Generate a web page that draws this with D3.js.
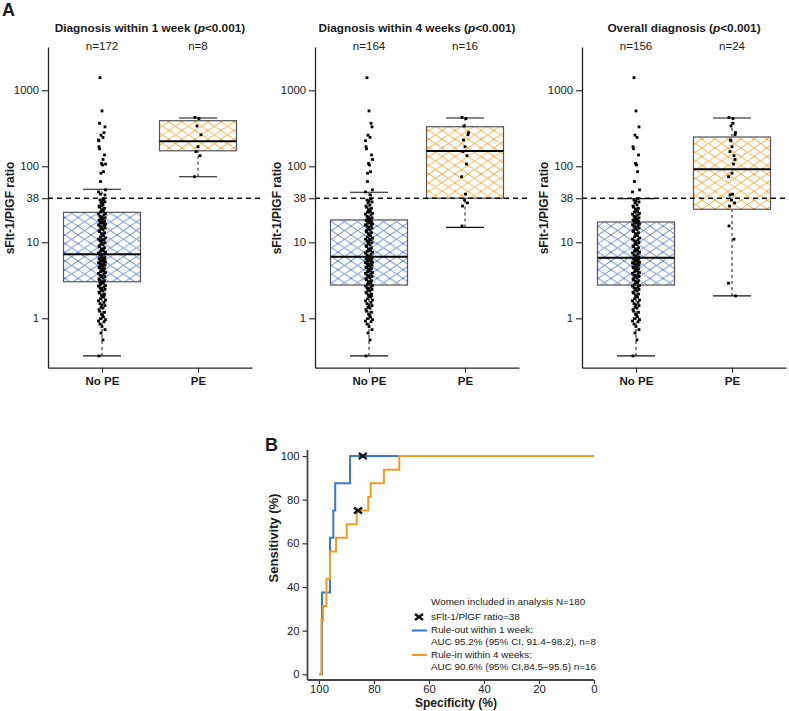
<!DOCTYPE html>
<html><head><meta charset="utf-8">
<script src="https://cdn.jsdelivr.net/npm/d3@7"></script>
<style>
body{margin:0;background:#fff}
svg{display:block}
text{font-family:Arial,"Liberation Sans",sans-serif;fill:#1a1a1a}
</style>
</head><body>
<svg id="c" width="789" height="711"></svg>
<script>
// ---------------- DATA ----------------
const groups = ["No PE", "PE"];
const panelTitles = ["Diagnosis within 1 week", "Diagnosis within 4 weeks", "Overall diagnosis"];
const pTexts = ["<0.001", "<0.001", "<0.001"];
const nCounts = [[172, 8], [164, 16], [156, 24]];
const yTickValues = [1, 10, 38, 100, 1000];
const cutoff = 38;

// box statistics: [lower whisker, Q1, median, Q3, upper whisker]
const boxNoPE1 = [0.32, 3.03, 6.95, 24.8, 49.8];
const boxPE1   = [73, 160, 213, 398, 432];
const boxNoPE2 = [0.32, 2.74, 6.46, 19.7, 45.5];
const boxPE2   = [15.7, 38, 159, 332, 432];
const boxNoPE3 = [0.32, 2.74, 6.27, 18.5, 37.6];
const boxPE3   = [1.97, 27.2, 91.4, 243, 432];

// individual ratios
const peWithin1wk = [440, 425, 339, 260, 181, 156, 138, 73];
const peWeek1to4  = [277, 222, 107, 43, 36, 33, 30, 16.4];
const peAfter4wk  = [368, 217, 123, 81, 42, 11, 2.9, 1.97];
const noPE = [
  0.32, 0.52, 0.64, 0.71, 0.78, 0.84, 0.9, 0.92, 0.96, 0.99,
  1.04, 1.1, 1.13, 1.2, 1.24, 1.3, 1.36, 1.4, 1.47, 1.5, 1.56, 1.62, 1.7, 1.74, 1.81, 1.9, 1.94, 2.0, 2.08, 2.15, 2.2, 2.28, 2.35, 2.4, 2.46, 2.52, 2.6, 2.66, 2.7,
  2.8, 2.9, 2.97, 3.05, 3.12, 3.2, 3.3, 3.38, 3.5, 3.56, 3.62, 3.7, 3.82, 3.9, 4.0, 4.1, 4.18, 4.3, 4.42, 4.5, 4.6, 4.72, 4.8, 4.9, 5.0, 5.1, 5.22, 5.3, 5.4, 5.5, 5.62, 5.7, 5.8, 5.9, 6.0, 6.05, 6.12, 6.2, 6.25,
  6.4, 6.6, 6.8, 7.0, 7.25, 7.4, 7.6, 7.8, 8.0, 8.2, 8.5, 8.8, 9.0, 9.3, 9.6, 9.9, 10.2, 10.5, 10.8, 11.0, 11.4, 11.8, 12.2, 12.6, 13.0, 13.4, 13.8, 14.2, 14.6, 15.0, 15.4, 15.8, 16.2, 16.6, 17.0, 17.4, 17.8, 18.1, 18.4,
  18.7, 19.0, 19.3, 19.6, 20.0, 20.5, 21.0, 21.5, 22.0, 23.0, 23.5, 24.0, 25.0, 25.5, 26.0, 27.0, 28.0, 29.0, 30.0, 31.0, 33.0, 34.0, 35.0, 36.0, 37.6, 46, 49, 63, 85, 104, 109, 141, 170, 181, 240, 257, 330, 535, 1466
];

// ROC curves (specificity %, sensitivity %)
const rocOutSpec = [100, 98.9, 98.9, 96.0, 96.0, 94.8, 94.8, 94.1, 94.1, 88.7, 88.7, 0];
const rocOutSens = [0, 0, 37.5, 37.5, 62.5, 62.5, 75, 75, 87.5, 87.5, 100, 100];
const rocInSpec = [100, 99.1, 99.1, 98.5, 98.5, 97.3, 97.3, 96.0, 96.0, 93.8, 93.8, 89.9, 89.9, 86.3, 86.3, 82.1, 82.1, 81.2, 81.2, 76.4, 76.4, 70.8, 70.8, 0];
const rocInSens = [0, 0, 25, 25, 31.25, 31.25, 43.75, 43.75, 56.25, 56.25, 62.5, 62.5, 68.75, 68.75, 75, 75, 81.25, 81.25, 87.5, 87.5, 93.75, 93.75, 100, 100];
const cutoffPoints = [[84.1, 100], [85.8, 75]];
const rocTicks = [0, 20, 40, 60, 80, 100];
const legendLines = [
  "Women included in analysis N=180",
  "sFlt-1/PlGF ratio=38",
  "Rule-out within 1 week:",
  "AUC 95.2% (95% CI, 91.4\u201398.2), n=8",
  "Rule-in within 4 weeks:",
  "AUC 90.6% (95% CI,84.5\u201395.5) n=16"
];

// ---------------- STYLE ----------------
const BLUE = "#3a78c8", ORANGE = "#f39a25";
const HATCH_BLUE = "#4f78cf", HATCH_ORANGE = "#f5a027";
const FONT = "Arial, Liberation Sans, sans-serif";

const svg = d3.select("#c");
const defs = svg.append("defs");
function hatch(id, col) {
  const p = defs.append("pattern").attr("id", id).attr("patternUnits", "userSpaceOnUse")
    .attr("width", 13).attr("height", 8.7);
  p.append("rect").attr("width", 13).attr("height", 8.7).attr("fill", "#fff");
  p.append("path").attr("d", "M0,0L13,8.7M0,8.7L13,0M-1,-0.67L1,0.67M12,8.03L14,9.37")
    .attr("stroke", col).attr("stroke-width", 0.9).attr("fill", "none");
}
hatch("hb", HATCH_BLUE);
hatch("ho", HATCH_ORANGE);

// ---------------- PANEL A ----------------
const panels = [
  {title: panelTitles[0], p: pTexts[0], n: nCounts[0], boxes: [boxNoPE1, boxPE1], pts: [noPE.concat(peWeek1to4, peAfter4wk), peWithin1wk]},
  {title: panelTitles[1], p: pTexts[1], n: nCounts[1], boxes: [boxNoPE2, boxPE2], pts: [noPE.concat(peAfter4wk), peWithin1wk.concat(peWeek1to4)]},
  {title: panelTitles[2], p: pTexts[2], n: nCounts[2], boxes: [boxNoPE3, boxPE3], pts: [noPE, peWithin1wk.concat(peWeek1to4, peAfter4wk)]}
];
const axisXs = [48, 315, 582];
const yTop = 47, yBot = 367.7;
const y = d3.scaleLog().domain([0.2239, 3713]).range([yBot, yTop]);
const jit = [-3, 1, -1, 3, 0, -2, 2, -3.5, 3.5, -1.5, 1.5, 0.5, -0.5, 2.5, -2.5];
const boxW = 77, capW = 38;

svg.append("text").attr("x", 2).attr("y", 16).attr("font-size", 18).attr("font-weight", "bold").text("A");

panels.forEach((pan, i) => {
  const ax = axisXs[i];
  const x = d3.scalePoint().domain(groups).range([ax, ax + 204]).padding(0.5625);
  const g = svg.append("g");

  // title
  const t = g.append("text").attr("x", ax + 102).attr("y", 32).attr("text-anchor", "middle")
    .attr("font-size", 11.8).attr("font-weight", "bold");
  t.append("tspan").text(pan.title + " (");
  t.append("tspan").attr("font-style", "italic").text("p");
  t.append("tspan").text(pan.p + ")");
  // n labels
  groups.forEach((gname, k) => {
    g.append("text").attr("x", x(gname)).attr("y", 49.5).attr("text-anchor", "middle")
      .attr("font-size", 11.6).attr("fill", "#333").text("n=" + pan.n[k]);
  });

  // y axis
  const ya = g.append("g").attr("transform", `translate(${ax},0)`)
    .call(d3.axisLeft(y).tickValues(yTickValues).tickFormat(d3.format("d")).tickSize(6).tickSizeOuter(0));
  ya.select(".domain").attr("stroke", "#222").attr("stroke-width", 1.3);
  ya.selectAll(".tick line").attr("stroke", "#222").attr("stroke-width", 1.1);
  ya.selectAll(".tick text").attr("font-size", 11.3).attr("fill", "#222").attr("font-family", FONT);
  g.append("text").attr("transform", `translate(${ax - 38},208) rotate(-90)`).attr("text-anchor", "middle")
    .attr("dy", "0.35em").attr("font-size", 12).attr("font-weight", "bold").text("sFlt-1/PlGF ratio");

  // x axis
  const xa = g.append("g").attr("transform", `translate(0,${yBot})`)
    .call(d3.axisBottom(x).tickSize(5).tickSizeOuter(0).tickPadding(4));
  xa.select(".domain").attr("stroke", "#222").attr("stroke-width", 1.3);
  xa.selectAll(".tick line").attr("stroke", "#222").attr("stroke-width", 1.1);
  xa.selectAll(".tick text").attr("font-size", 11.5).attr("font-weight", "bold").attr("fill", "#1a1a1a").attr("font-family", FONT);

  // boxes
  groups.forEach((gname, k) => {
    const s = pan.boxes[k], cx = x(gname);
    g.append("line").attr("x1", cx).attr("x2", cx).attr("y1", y(s[0])).attr("y2", y(s[1]))
      .attr("stroke", "#111").attr("stroke-dasharray", "3,3");
    g.append("line").attr("x1", cx).attr("x2", cx).attr("y1", y(s[3])).attr("y2", y(s[4]))
      .attr("stroke", "#111").attr("stroke-dasharray", "3,3");
    [s[0], s[4]].forEach(v => g.append("line").attr("x1", cx - capW / 2).attr("x2", cx + capW / 2)
      .attr("y1", y(v)).attr("y2", y(v)).attr("stroke", "#111").attr("stroke-width", 1.1));
    g.append("rect").attr("x", cx - boxW / 2).attr("width", boxW).attr("y", y(s[3])).attr("height", y(s[1]) - y(s[3]))
      .attr("fill", k === 0 ? "url(#hb)" : "url(#ho)").attr("stroke", "#555").attr("stroke-width", 1.2);
    g.append("line").attr("x1", cx - boxW / 2).attr("x2", cx + boxW / 2).attr("y1", y(s[2])).attr("y2", y(s[2]))
      .attr("stroke", "#000").attr("stroke-width", 2);
  });

  // cutoff line
  g.append("line").attr("x1", ax).attr("x2", ax + 212).attr("y1", y(cutoff)).attr("y2", y(cutoff))
    .attr("stroke", "#111").attr("stroke-width", 1.3).attr("stroke-dasharray", "5,4");

  // points
  groups.forEach((gname, k) => {
    const cx = x(gname);
    g.selectAll(null).data(pan.pts[k]).enter().append("rect")
      .attr("x", (d, j) => cx + jit[j % jit.length] - 1.4).attr("y", d => y(d) - 1.4)
      .attr("width", 2.8).attr("height", 2.8).attr("fill", "#000");
  });
});

// ---------------- PANEL B ----------------
const bx = d3.scaleLinear().domain([100, 0]).range([319, 594]);
const by = d3.scaleLinear().domain([0, 100]).range([674.3, 456]);
const bAxisX = 307.5, bAxisY = 680;
const gb = svg.append("g");
gb.append("text").attr("x", 265).attr("y", 451).attr("font-size", 18).attr("font-weight", "bold").text("B");

const bya = gb.append("g").attr("transform", `translate(${bAxisX},0)`)
  .call(d3.axisLeft(by).tickValues(rocTicks).tickSize(5).tickSizeOuter(0).tickPadding(3));
bya.select(".domain").remove();
const bxa = gb.append("g").attr("transform", `translate(0,${bAxisY})`)
  .call(d3.axisBottom(bx).tickValues(rocTicks).tickSize(4).tickSizeOuter(0).tickPadding(1));
bxa.select(".domain").remove();
[bya, bxa].forEach(a => {
  a.selectAll(".tick line").attr("stroke", "#333").attr("stroke-width", 1.2);
  a.selectAll(".tick text").attr("font-size", 11.3).attr("fill", "#222").attr("font-family", FONT);
});
gb.append("line").attr("x1", bAxisX).attr("x2", bAxisX).attr("y1", by(100) - 6).attr("y2", bAxisY)
  .attr("stroke", "#444").attr("stroke-width", 1.8);
gb.append("line").attr("x1", bAxisX).attr("x2", bx(0)).attr("y1", bAxisY).attr("y2", bAxisY)
  .attr("stroke", "#444").attr("stroke-width", 1.8);

gb.append("text").attr("transform", `translate(273,538) rotate(-90)`).attr("text-anchor", "middle")
  .attr("dy", "0.35em").attr("font-size", 13).attr("font-weight", "bold").text("Sensitivity (%)");
gb.append("text").attr("x", 456).attr("y", 707).attr("text-anchor", "middle")
  .attr("font-size", 12).attr("font-weight", "bold").text("Specificity (%)");

const line = d3.line().x(d => bx(d[0])).y(d => by(d[1]));
gb.append("path").attr("d", line(d3.zip(rocOutSpec, rocOutSens))).attr("fill", "none")
  .attr("stroke", BLUE).attr("stroke-width", 2);
gb.append("path").attr("d", line(d3.zip(rocInSpec, rocInSens))).attr("fill", "none")
  .attr("stroke", ORANGE).attr("stroke-width", 2);

const xMark = "M-4,-3L4,3M-4,3L4,-3";
cutoffPoints.forEach(p => gb.append("path").attr("d", xMark)
  .attr("transform", `translate(${bx(p[0])},${by(p[1])})`).attr("stroke", "#111").attr("stroke-width", 2.4).attr("fill", "none"));

// legend
const lg = gb.append("g");
const lx = 431, lfs = 9.9;
lg.append("text").attr("x", lx).attr("y", 602).attr("dy", "0.35em").attr("font-size", lfs).text(legendLines[0]);
lg.append("path").attr("d", xMark).attr("transform", "translate(419,617)").attr("stroke", "#111").attr("stroke-width", 2.4);
lg.append("text").attr("x", lx).attr("y", 617).attr("dy", "0.35em").attr("font-size", lfs).text(legendLines[1]);
lg.append("line").attr("x1", 412).attr("x2", 427).attr("y1", 630.5).attr("y2", 630.5).attr("stroke", BLUE).attr("stroke-width", 2);
lg.append("text").attr("x", lx).attr("y", 630).attr("dy", "0.35em").attr("font-size", lfs).text(legendLines[2]);
lg.append("text").attr("x", lx).attr("y", 642).attr("dy", "0.35em").attr("font-size", lfs).text(legendLines[3]);
lg.append("line").attr("x1", 412).attr("x2", 427).attr("y1", 655).attr("y2", 655).attr("stroke", ORANGE).attr("stroke-width", 2);
lg.append("text").attr("x", lx).attr("y", 655).attr("dy", "0.35em").attr("font-size", lfs).text(legendLines[4]);
lg.append("text").attr("x", lx).attr("y", 667).attr("dy", "0.35em").attr("font-size", lfs).text(legendLines[5]);
</script>
</body></html>
